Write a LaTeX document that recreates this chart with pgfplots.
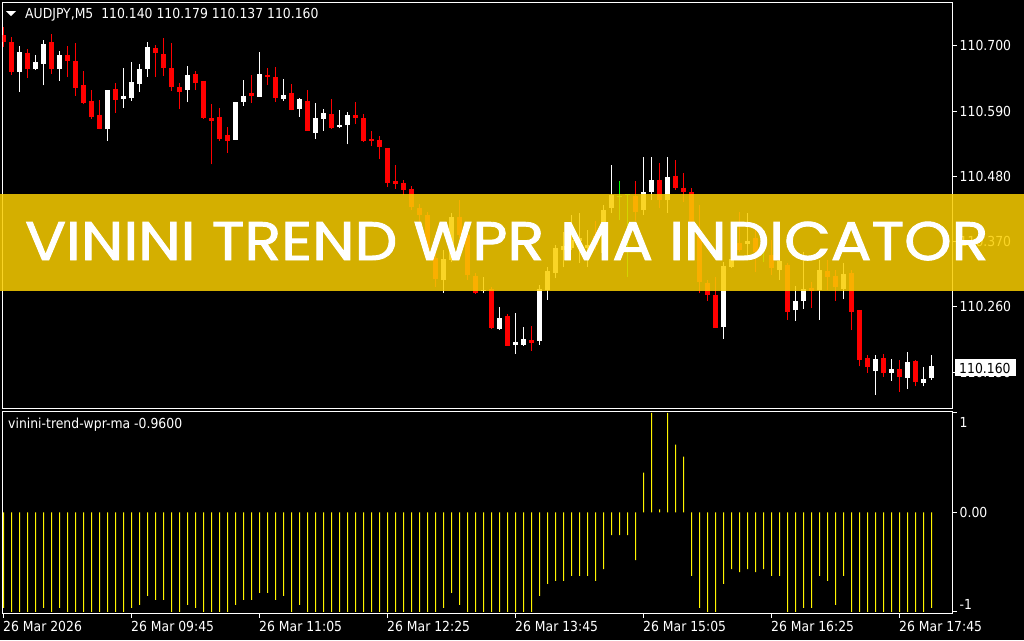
\documentclass[border=0pt]{standalone}
\usepackage{pgfplots}
\pgfplotsset{compat=1.18}
\usepackage{pgfplotstable}
\usepackage{graphicx}
\usepackage{fontspec}
\setmainfont{DejaVu Sans}[FakeStretch=0.9]
\newfontfamily\bannerfont{Poppins}[FakeBold=1.6]
\newcommand\mtf{\fontsize{13.8}{16}\selectfont}
\definecolor{mtred}{RGB}{255,0,0}
\definecolor{mtgreen}{RGB}{0,255,0}
\definecolor{mtyellow}{RGB}{255,245,0}
\definecolor{bannercol}{RGB}{250,206,0}

% bearish candles: index, open, high, low, close
\pgfplotstableread{
i o h l c
0 110.718 110.732 110.698 110.707
1 110.706 110.715 110.651 110.656
3 110.688 110.694 110.646 110.661
6 110.706 110.720 110.653 110.660
8 110.684 110.700 110.647 110.675
9 110.674 110.705 110.616 110.629
10 110.634 110.658 110.601 110.603
11 110.607 110.625 110.577 110.580
12 110.584 110.609 110.559 110.559
14 110.627 110.637 110.587 110.609
19 110.696 110.701 110.648 110.687
20 110.686 110.713 110.649 110.663
21 110.662 110.705 110.624 110.631
22 110.630 110.637 110.593 110.622
24 110.652 110.657 110.625 110.637
25 110.641 110.641 110.577 110.578
26 110.578 110.602 110.500 110.574
27 110.580 110.595 110.540 110.543
28 110.550 110.563 110.520 110.540
31 110.620 110.651 110.604 110.616
33 110.651 110.662 110.634 110.647
34 110.647 110.664 110.606 110.612
36 110.620 110.635 110.591 110.592
38 110.607 110.625 110.557 110.557
41 110.585 110.610 110.560 110.562
44 110.583 110.605 110.568 110.578
45 110.578 110.585 110.538 110.539
46 110.543 110.556 110.531 110.539
47 110.541 110.548 110.509 110.529
48 110.528 110.528 110.462 110.469
49 110.472 110.499 110.459 110.467
50 110.469 110.474 110.449 110.457
51 110.459 110.464 110.424 110.428
52 110.427 110.433 110.403 110.415
53 110.415 110.420 110.353 110.356
54 110.342 110.361 110.294 110.307
57 110.412 110.440 110.376 110.381
58 110.381 110.386 110.305 110.314
59 110.312 110.317 110.282 110.284
61 110.290 110.294 110.223 110.225
63 110.245 110.248 110.195 110.195
66 110.204 110.228 110.186 110.199
74 110.379 110.404 110.356 110.364
79 110.447 110.472 110.404 110.420
82 110.474 110.503 110.426 110.440
84 110.481 110.507 110.457 110.461
85 110.461 110.486 110.437 110.454
86 110.454 110.460 110.387 110.390
87 110.385 110.432 110.283 110.302
88 110.300 110.305 110.270 110.280
89 110.280 110.311 110.225 110.225
92 110.367 110.420 110.353 110.356
94 110.376 110.390 110.319 110.353
96 110.347 110.373 110.314 110.325
98 110.331 110.334 110.238 110.252
101 110.292 110.302 110.258 110.287
103 110.321 110.339 110.288 110.311
104 110.312 110.322 110.270 110.294
106 110.317 110.322 110.221 110.252
107 110.255 110.255 110.160 110.171
108 110.174 110.179 110.149 110.158
110 110.174 110.181 110.142 110.149
112 110.155 110.171 110.117 110.142
114 110.169 110.171 110.126 110.134
}\redtab

% bullish candles
\pgfplotstableread{
i o h l c
2 110.656 110.700 110.622 110.690
4 110.661 110.684 110.659 110.673
5 110.670 110.709 110.633 110.703
7 110.661 110.691 110.641 110.684
13 110.559 110.625 110.540 110.625
15 110.610 110.662 110.595 110.615
16 110.612 110.673 110.607 110.639
17 110.636 110.669 110.622 110.661
18 110.661 110.706 110.648 110.698
23 110.626 110.666 110.605 110.651
29 110.542 110.605 110.542 110.605
30 110.606 110.642 110.599 110.615
32 110.614 110.689 110.614 110.652
35 110.610 110.644 110.607 110.617
37 110.594 110.612 110.580 110.610
39 110.553 110.603 110.543 110.578
40 110.577 110.593 110.557 110.587
42 110.563 110.592 110.561 110.566
43 110.566 110.588 110.534 110.583
55 110.305 110.356 110.284 110.341
56 110.339 110.418 110.336 110.412
60 110.286 110.310 110.283 110.288
62 110.223 110.260 110.221 110.241
64 110.196 110.250 110.181 110.201
65 110.196 110.226 110.195 110.206
67 110.203 110.297 110.196 110.290
68 110.288 110.328 110.272 110.321
69 110.318 110.364 110.308 110.359
70 110.356 110.387 110.327 110.363
71 110.360 110.415 110.356 110.372
72 110.371 110.419 110.334 110.376
73 110.359 110.390 110.328 110.364
75 110.351 110.432 110.342 110.424
76 110.427 110.499 110.418 110.449
80 110.423 110.513 110.415 110.454
81 110.454 110.513 110.440 110.474
83 110.440 110.513 110.418 110.479
90 110.227 110.336 110.206 110.329
91 110.328 110.356 110.326 110.340
93 110.366 110.418 110.346 110.371
97 110.322 110.359 110.305 110.337
99 110.254 110.295 110.236 110.270
100 110.270 110.353 110.257 110.290
102 110.288 110.339 110.238 110.322
105 110.290 110.334 110.273 110.315
109 110.152 110.179 110.112 110.172
111 110.149 110.173 110.136 110.155
113 110.141 110.184 110.122 110.167
115 110.132 110.159 110.126 110.139
116 110.140 110.179 110.137 110.160
}\whitetab

% doji candles
\pgfplotstableread{
i o h l c
77 110.446 110.472 110.406 110.446
78 110.450 110.451 110.311 110.450
95 110.356 110.378 110.336 110.356
}\dojitab

% indicator histogram
\pgfplotstableread{
i v
0 -0.96
1 -1
2 -1
3 -1
4 -1
5 -0.96
6 -1
7 -0.96
8 -1
9 -1
10 -1
11 -1
12 -1
13 -1
14 -1
15 -1
16 -0.96
17 -0.93
18 -0.84
19 -0.88
20 -0.88
21 -1
22 -1
23 -0.93
24 -0.96
25 -1
26 -1
27 -1
28 -1
29 -0.93
30 -0.88
31 -0.88
32 -0.81
33 -0.81
34 -0.88
35 -0.84
36 -1
37 -0.93
38 -1
39 -1
40 -1
41 -1
42 -1
43 -1
44 -1
45 -1
46 -1
47 -1
48 -1
49 -1
50 -1
51 -1
52 -1
53 -1
54 -1
55 -0.96
56 -0.81
57 -0.93
58 -1
59 -1
60 -1
61 -1
62 -1
63 -1
64 -1
65 -1
66 -1
67 -0.84
68 -0.72
69 -0.69
70 -0.69
71 -0.64
72 -0.64
73 -0.64
74 -0.69
75 -0.57
76 -0.23
77 -0.23
78 -0.23
79 -0.48
80 0.40
81 1.00
82 0.03
83 1.00
84 0.68
85 0.56
86 -0.64
87 -0.96
88 -1
89 -1
90 -0.72
91 -0.57
92 -0.60
93 -0.57
94 -0.60
95 -0.57
96 -0.64
97 -0.64
98 -1
99 -1
100 -0.96
101 -0.96
102 -0.64
103 -0.69
104 -0.93
105 -0.64
106 -1
107 -1
108 -1
109 -1
110 -1
111 -1
112 -1
113 -1
114 -1
115 -1
116 -0.96
}\indtab

\pgfplotsset{
  mtaxis/.style={
    anchor=north west, width=950pt, scale only axis,
    xmin=-0.125, xmax=118.625,
    axis line style={white, line width=1pt},
    tick align=outside, major tick length=4pt,
    major tick style={white, line width=1pt},
    ytick pos=right, yticklabel pos=right,
    every tick label/.append style={font=\mtf, text=white},
    y tick label style={anchor=west, inner sep=0pt, xshift=3pt},
    clip=true,
  }
}

\begin{document}
\begin{tikzpicture}
\useasboundingbox (0pt,0pt) rectangle (1024pt,-640pt);
\fill[black] (0pt,0pt) rectangle (1024pt,-640pt);

% price panel
\begin{axis}[mtaxis,
  at={(2.5pt,-2.5pt)}, height=406pt,
  ymin=110.0889, ymax=110.7728,
  xtick=\empty,
  ytick={110.150,110.260,110.370,110.480,110.590,110.700},
  yticklabels={110.150,110.260,110.370,110.480,110.590,110.700},
]
\addplot[mtred, line width=1pt, quiver={u=0, v=\thisrow{h}-\thisrow{l}}] table[x=i, y=l] {\redtab};
\addplot[mtred, line width=5pt, quiver={u=0, v=\thisrow{c}-\thisrow{o}}] table[x=i, y=o] {\redtab};
\addplot[white, line width=1pt, quiver={u=0, v=\thisrow{h}-\thisrow{l}}] table[x=i, y=l] {\whitetab};
\addplot[white, line width=5pt, quiver={u=0, v=\thisrow{c}-\thisrow{o}}] table[x=i, y=o] {\whitetab};
\addplot[mtgreen, line width=1pt, quiver={u=0, v=\thisrow{h}-\thisrow{l}}] table[x=i, y=l] {\dojitab};
\addplot[mtgreen, only marks, mark=-, mark size=2.5pt, mark options={line width=1pt}] table[x=i, y=o] {\dojitab};
\end{axis}

% indicator panel
\begin{axis}[mtaxis,
  at={(2.5pt,-411.5pt)}, height=202pt,
  ymin=-1.017, ymax=1.013,
  xtick={0,16,32,48,64,80,96,112},
  xticklabels={26 Mar 2026, 26 Mar 09:45, 26 Mar 11:05, 26 Mar 12:25, 26 Mar 13:45, 26 Mar 15:05, 26 Mar 16:25, 26 Mar 17:45},
  xtick pos=bottom,
  x tick label style={anchor=north west, inner sep=0pt, xshift=-0.5pt, yshift=-4pt},
  ytick={-1,0,1},
  yticklabels={\raisebox{7.7pt}[\height][\depth]{-1}, 0.00, \raisebox{-9.7pt}[\height][\depth]{1}},
]
\addplot[ybar, bar width=1pt, fill=mtyellow, draw=none] table[x=i, y=v] {\indtab};
\end{axis}

% header
\fill[white] (6pt,-11pt) -- (16pt,-11pt) -- (11pt,-16pt) -- cycle;
\node[anchor=base west, inner sep=0pt, text=white, font=\mtf] at (25pt,-18.3pt) {AUDJPY,M5\ \ 110.140 110.179 110.137 110.160};
\node[anchor=base west, inner sep=0pt, text=white, font=\mtf] at (8pt,-428.3pt) {vinini-trend-wpr-ma -0.9600};

% current price box
\fill[white] (955pt,-359pt) rectangle (1016pt,-376pt);
\node[anchor=base west, inner sep=0pt, text=black, font=\mtf] at (959pt,-373.3pt) {110.160};

% banner
\fill[bannercol, fill opacity=0.85] (0pt,-194pt) rectangle (1024pt,-291pt);
\node[anchor=base west, inner sep=0pt, text=white] at (25pt,-260pt) {\resizebox{963pt}{38.3pt}{\bannerfont VININI TREND WPR MA INDICATOR}};
\end{tikzpicture}
\end{document}
